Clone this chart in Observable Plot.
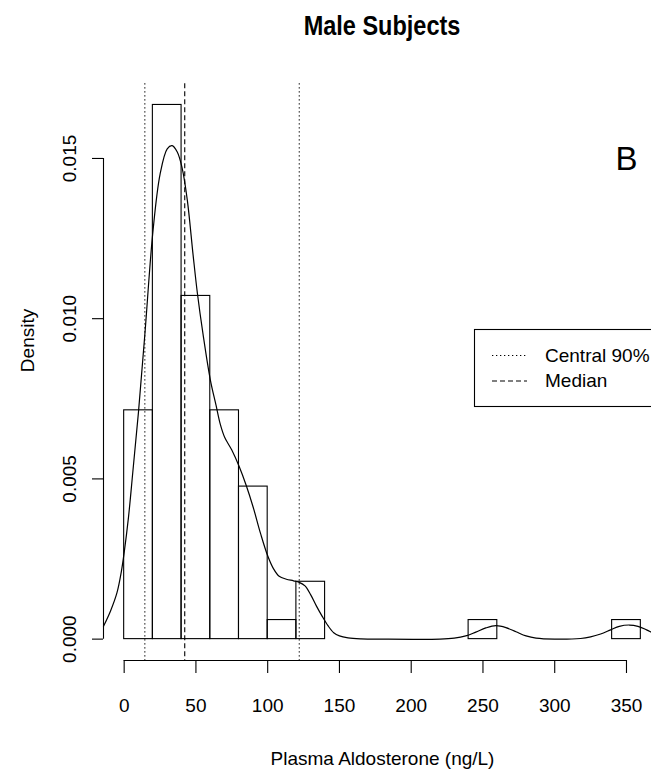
<!DOCTYPE html>
<html><head><meta charset="utf-8">
<script src="https://cdn.jsdelivr.net/npm/d3@7"></script>
<script src="https://cdn.jsdelivr.net/npm/@observablehq/plot@0.6"></script>
<style>
html,body{margin:0;padding:0;background:#fff;overflow:hidden;}
#wrap{position:relative;width:651px;height:772px;font-family:"Liberation Sans",Arial,Helvetica,sans-serif;color:#000;}
#title{position:absolute;left:182px;width:400px;top:13px;text-align:center;font-weight:bold;font-size:27px;line-height:27px;transform:scaleX(0.87);}
#chart{position:absolute;left:0;top:50px;}
#overlay{position:absolute;left:0;top:0;pointer-events:none;}
</style></head><body>
<div id="wrap">
  <div id="title">Male Subjects</div>
  <div id="chart"></div>
  <svg id="overlay" width="651" height="772"></svg>
</div>
<script>
// ---- data ----
const binStart   = [0, 20, 40, 60, 80, 100, 120, 240, 340];
const binEnd     = [20, 40, 60, 80, 100, 120, 140, 260, 360];
const binDensity = [0.00714, 0.01667, 0.01071, 0.00714, 0.00476, 0.000595, 0.00179, 0.000595, 0.000595];

const curveX = [-14.4, -9.5, -5, -2, 0, 3, 6, 10, 14.4, 20, 25, 30, 33.4, 37, 40.4, 44, 48, 51, 55, 60, 64, 67, 70, 75, 80, 85, 90, 95, 100, 104, 108, 113, 118, 122, 126, 130, 134, 138, 142, 146, 150, 156, 165, 180, 220, 230, 238, 245, 252, 259, 266, 273, 280, 287, 300, 318, 325, 332, 339, 345, 352, 358, 364, 370, 376, 382];
const curveY = [0.0004, 0.00088, 0.00145, 0.0021, 0.0027, 0.0038, 0.0052, 0.0071, 0.0095, 0.0127, 0.0145, 0.0153, 0.0154, 0.0152, 0.0147, 0.0137, 0.0120, 0.0108, 0.0095, 0.0081, 0.0073, 0.0067, 0.0063, 0.0059, 0.0054, 0.0048, 0.0041, 0.0033, 0.0026, 0.0022, 0.00196, 0.00187, 0.00182, 0.00177, 0.00166, 0.00138, 0.00103, 0.00071, 0.00042, 0.0002, 0.0001, 0.00004, 0.00001, 0, 0, 0.00003, 0.0001, 0.00022, 0.00035, 0.00042, 0.00036, 0.00023, 0.0001, 0.00003, 0, 0.00002, 0.00007, 0.00016, 0.00029, 0.0004, 0.00044, 0.0004, 0.00029, 0.00016, 0.00007, 0.00002];

const central90 = [14.4, 122.0];   // dotted reference lines
const medianVal = [42.2];          // dashed reference line

const xTicks = [0, 50, 100, 150, 200, 250, 300, 350];
const yTicks = [0, 0.005, 0.010, 0.015];

const titleText = "Male Subjects";
const xLabel = "Plasma Aldosterone (ng/L)";
const yLabel = "Density";
const panelTag = "B";
const legendLabels = ["Central 90%", "Median"];

// ---- build ----
const bins = binStart.map((s, i) => ({x1: s, x2: binEnd[i], d: binDensity[i]}));
const curve = curveX.map((x, i) => ({x, y: curveY[i]}));
const xDomain = [-14.4, 374.4];
const yDomain = [-0.000667, 0.01733];
const dotted = "1.3,2.7";
const dashed = "5,3";
const fs = 19;

const chart = Plot.plot({
  width: 651,
  height: 722,
  marginLeft: 103,
  marginRight: 0,
  marginTop: 33.3,
  marginBottom: 112,
  style: {fontFamily: '"Liberation Sans", Arial, Helvetica, sans-serif', fontSize: fs + "px", color: "#000", background: "#fff"},
  x: {domain: xDomain, range: [103, 661]},
  y: {domain: yDomain},
  marks: [
    Plot.rect(bins, {x1: "x1", x2: "x2", y1: 0, y2: "d", fill: "none", stroke: "#000", strokeWidth: 1.1}),
    Plot.ruleX(central90, {stroke: "#000", strokeWidth: 1.1, strokeDasharray: dotted}),
    Plot.ruleX(medianVal, {stroke: "#000", strokeWidth: 1.1, strokeDasharray: dashed}),
    Plot.line(curve, {x: "x", y: "y", curve: "catmull-rom", stroke: "#000", strokeWidth: 1.2}),
    Plot.ruleY([yDomain[0]], {x1: xTicks[0], x2: xTicks[xTicks.length - 1], stroke: "#000", strokeWidth: 1.1}),
    Plot.ruleX([xDomain[0]], {y1: yTicks[0], y2: yTicks[yTicks.length - 1], stroke: "#000", strokeWidth: 1.1}),
    Plot.axisX({ticks: xTicks, tickSize: 13, tickPadding: 24.5, fontSize: fs, label: null, strokeWidth: 1.1}),
    Plot.axisY({ticks: yTicks, tickSize: 11, tickPadding: 16.4, tickRotate: -90, tickFormat: d3.format(".3f"), fontSize: fs, label: null, strokeWidth: 1.1}),
    Plot.text([xLabel], {frameAnchor: "bottom", dx: 5, dy: 104, lineAnchor: "bottom", fontSize: fs}),
    Plot.text([yLabel], {frameAnchor: "left", rotate: -90, dx: -70, lineAnchor: "bottom", fontSize: fs})
  ]
});
document.getElementById("chart").appendChild(chart);
document.getElementById("title").textContent = titleText;

// ---- legend + panel tag overlay ----
const ov = d3.select("#overlay");
const lg = ov.append("g").attr("font-family", '"Liberation Sans", Arial, Helvetica, sans-serif').attr("font-size", fs);
lg.append("rect").attr("x", 474.5).attr("y", 329.5).attr("width", 300).attr("height", 77)
  .attr("fill", "#fff").attr("stroke", "#000").attr("stroke-width", 1.1);
const rowY = [355.5, 381];
const styles = [dotted, dashed];
legendLabels.forEach((lab, i) => {
  lg.append("line").attr("x1", 492).attr("x2", 527).attr("y1", rowY[i]).attr("y2", rowY[i])
    .attr("stroke", "#000").attr("stroke-width", 1.1).attr("stroke-dasharray", styles[i]);
  lg.append("text").attr("x", 545).attr("y", rowY[i] + 0.32 * fs).text(lab);
});
ov.append("text").attr("x", 626.5).attr("y", 170).attr("text-anchor", "middle")
  .attr("font-family", '"Liberation Sans", Arial, Helvetica, sans-serif').attr("font-size", 33).text(panelTag);
</script>
</body></html>
